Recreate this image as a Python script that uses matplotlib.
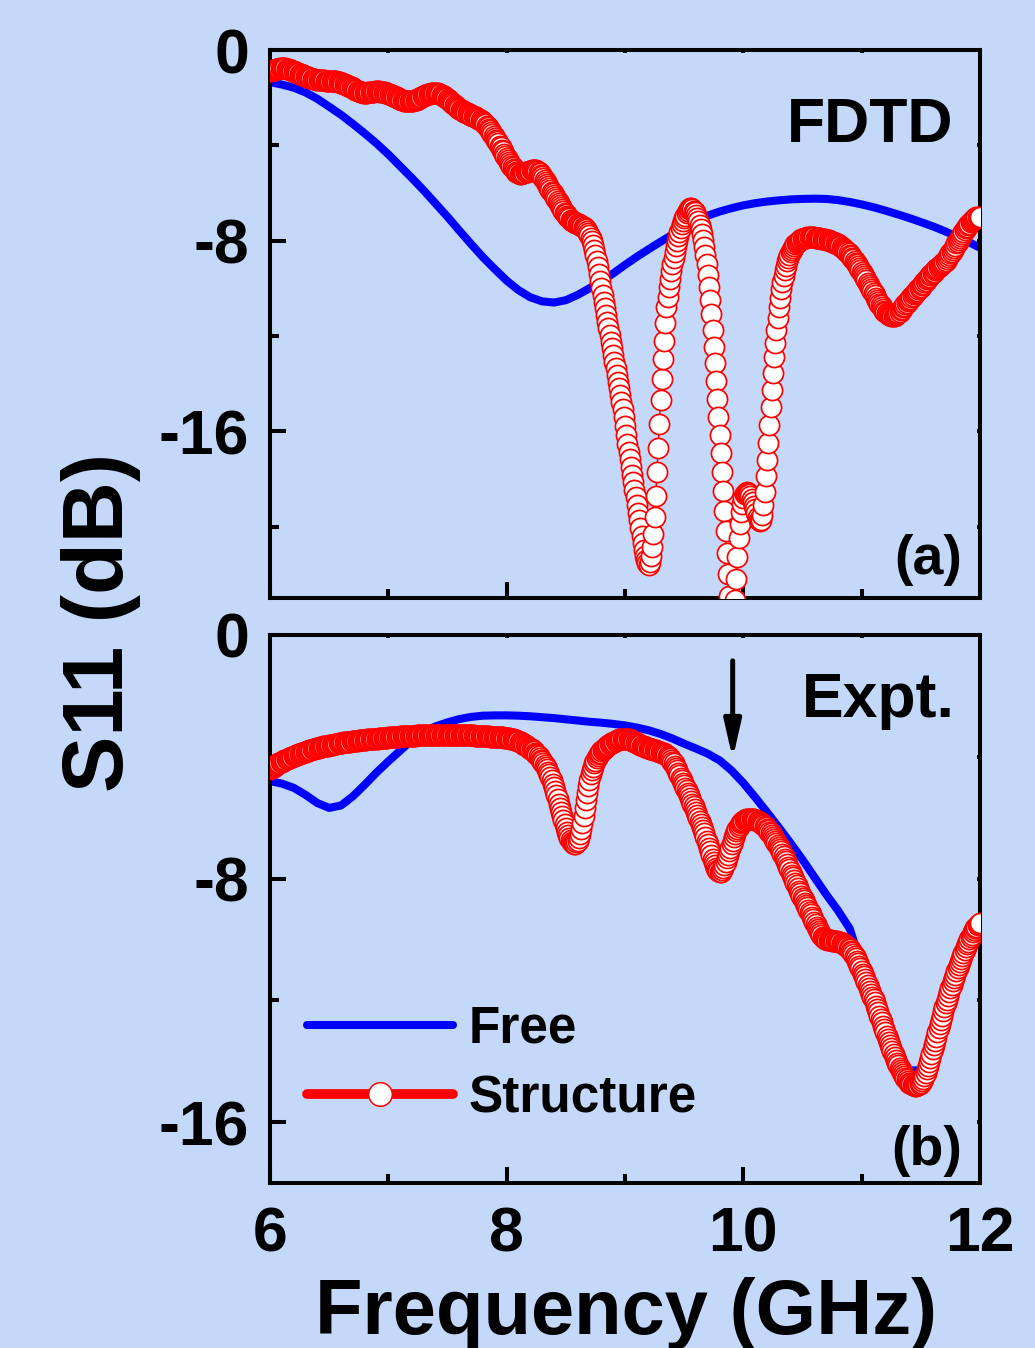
import numpy as np
import matplotlib
matplotlib.use('Agg')
import matplotlib.pyplot as plt
from matplotlib.lines import Line2D

plt.rcParams['font.family'] = ['Liberation Sans', 'DejaVu Sans']
plt.rcParams['font.weight'] = 'bold'
plt.rcParams['axes.unicode_minus'] = False

# frequency grids (GHz)
freq_fine = np.linspace(6, 12, 601)
freq_coarse = np.linspace(6, 12, 61)

# (a) FDTD, free space, 0.1 GHz step
fdtd_free = [
    -1.35, -1.45, -1.58, -1.78, -2.05, -2.38, -2.72, -3.10, -3.50, -3.92,
    -4.38, -4.88, -5.38, -5.90, -6.45, -7.00, -7.58, -8.15, -8.70, -9.20,
    -9.68, -10.08, -10.38, -10.55, -10.60, -10.50, -10.28, -10.00, -9.70, -9.38,
    -9.02, -8.68, -8.36, -8.05, -7.75, -7.45, -7.18, -6.95, -6.78, -6.64,
    -6.52, -6.43, -6.36, -6.31, -6.27, -6.25, -6.24, -6.25, -6.30, -6.38,
    -6.48, -6.60, -6.74, -6.89, -7.05, -7.22, -7.40, -7.60, -7.82, -8.05,
    -8.30]

# (a) FDTD, structure, 0.01 GHz step
fdtd_struct = [
    -0.90, -0.88, -0.86, -0.84, -0.82, -0.80, -0.79, -0.78, -0.77, -0.76,
    -0.75, -0.75, -0.76, -0.77, -0.78, -0.79, -0.81, -0.83, -0.85, -0.87,
    -0.88, -0.91, -0.93, -0.96, -0.98, -1.00, -1.02, -1.04, -1.06, -1.08,
    -1.10, -1.12, -1.14, -1.16, -1.17, -1.19, -1.20, -1.21, -1.23, -1.24,
    -1.25, -1.26, -1.27, -1.27, -1.28, -1.28, -1.28, -1.29, -1.29, -1.29,
    -1.30, -1.30, -1.30, -1.30, -1.31, -1.31, -1.32, -1.33, -1.34, -1.36,
    -1.38, -1.39, -1.41, -1.43, -1.45, -1.47, -1.50, -1.52, -1.55, -1.57,
    -1.60, -1.63, -1.66, -1.68, -1.71, -1.73, -1.75, -1.76, -1.78, -1.79,
    -1.79, -1.79, -1.79, -1.78, -1.78, -1.77, -1.76, -1.75, -1.75, -1.74,
    -1.74, -1.74, -1.74, -1.75, -1.75, -1.76, -1.77, -1.78, -1.79, -1.81,
    -1.83, -1.85, -1.87, -1.89, -1.92, -1.94, -1.96, -1.99, -2.01, -2.04,
    -2.06, -2.08, -2.10, -2.12, -2.14, -2.15, -2.16, -2.16, -2.16, -2.15,
    -2.14, -2.13, -2.11, -2.10, -2.08, -2.05, -2.03, -2.00, -1.98, -1.95,
    -1.93, -1.90, -1.88, -1.86, -1.84, -1.83, -1.81, -1.80, -1.80, -1.79,
    -1.79, -1.80, -1.81, -1.83, -1.85, -1.88, -1.91, -1.94, -1.97, -2.01,
    -2.05, -2.09, -2.13, -2.17, -2.22, -2.26, -2.31, -2.35, -2.39, -2.43,
    -2.47, -2.50, -2.53, -2.56, -2.59, -2.62, -2.64, -2.66, -2.69, -2.71,
    -2.74, -2.76, -2.78, -2.81, -2.83, -2.86, -2.89, -2.91, -2.95, -2.99,
    -3.03, -3.07, -3.12, -3.17, -3.23, -3.30, -3.37, -3.44, -3.52, -3.60,
    -3.68, -3.76, -3.84, -3.92, -4.01, -4.09, -4.18, -4.26, -4.35, -4.43,
    -4.52, -4.61, -4.70, -4.78, -4.86, -4.93, -4.99, -5.05, -5.10, -5.14,
    -5.17, -5.19, -5.19, -5.18, -5.17, -5.16, -5.14, -5.12, -5.10, -5.08,
    -5.06, -5.05, -5.04, -5.03, -5.03, -5.05, -5.08, -5.12, -5.17, -5.23,
    -5.30, -5.38, -5.46, -5.54, -5.62, -5.70, -5.78, -5.86, -5.94, -6.02,
    -6.10, -6.18, -6.27, -6.35, -6.44, -6.52, -6.60, -6.68, -6.76, -6.83,
    -6.90, -6.96, -7.02, -7.07, -7.12, -7.16, -7.19, -7.22, -7.25, -7.27,
    -7.30, -7.32, -7.35, -7.38, -7.40, -7.43, -7.47, -7.52, -7.58, -7.66,
    -7.75, -7.87, -8.02, -8.20, -8.40, -8.60, -8.85, -9.12, -9.40, -9.70,
    -10.00, -10.28, -10.56, -10.84, -11.12, -11.40, -11.68, -11.96, -12.24, -12.52,
    -12.80, -13.08, -13.36, -13.64, -13.92, -14.20, -14.48, -14.76, -15.05, -15.40,
    -15.80, -16.16, -16.52, -16.86, -17.18, -17.50, -17.82, -18.14, -18.46, -18.78,
    -19.10, -19.42, -19.74, -20.06, -20.38, -20.70, -20.98, -21.22, -21.42, -21.55,
    -21.60, -21.50, -21.25, -20.85, -20.30, -19.60, -18.70, -17.70, -16.70, -15.70,
    -14.70, -13.80, -12.95, -12.20, -11.45, -10.80, -10.35, -9.95, -9.60, -9.28,
    -9.00, -8.72, -8.46, -8.22, -8.00, -7.80, -7.62, -7.46, -7.32, -7.18,
    -7.06, -6.95, -6.85, -6.76, -6.69, -6.65, -6.65, -6.68, -6.74, -6.82,
    -6.92, -7.04, -7.18, -7.34, -7.52, -7.72, -7.97, -8.27, -8.62, -9.00,
    -9.45, -9.95, -10.50, -11.10, -11.75, -12.45, -13.15, -13.90, -14.65, -15.40,
    -16.15, -16.90, -17.70, -18.50, -19.35, -20.20, -21.10, -22.00, -22.90, -23.70,
    -24.20, -24.30, -23.90, -23.10, -22.20, -21.30, -20.50, -19.90, -19.40, -19.05,
    -18.80, -18.65, -18.58, -18.56, -18.58, -18.63, -18.72, -18.84, -18.98, -19.12,
    -19.28, -19.44, -19.60, -19.72, -19.78, -19.72, -19.50, -19.10, -18.55, -17.90,
    -17.20, -16.50, -15.75, -15.00, -14.25, -13.55, -12.90, -12.30, -11.75, -11.25,
    -10.80, -10.40, -10.05, -9.75, -9.48, -9.25, -9.05, -8.87, -8.72, -8.60,
    -8.49, -8.39, -8.30, -8.22, -8.15, -8.09, -8.04, -8.00, -7.97, -7.94,
    -7.92, -7.90, -7.88, -7.87, -7.86, -7.85, -7.85, -7.85, -7.85, -7.85,
    -7.86, -7.87, -7.88, -7.89, -7.90, -7.91, -7.92, -7.93, -7.94, -7.95,
    -7.96, -7.98, -7.99, -8.00, -8.02, -8.04, -8.06, -8.08, -8.10, -8.13,
    -8.16, -8.19, -8.22, -8.26, -8.30, -8.34, -8.38, -8.43, -8.48, -8.53,
    -8.59, -8.65, -8.71, -8.78, -8.85, -8.92, -9.00, -9.08, -9.15, -9.23,
    -9.31, -9.40, -9.49, -9.58, -9.67, -9.76, -9.85, -9.94, -10.03, -10.12,
    -10.21, -10.30, -10.39, -10.48, -10.56, -10.64, -10.72, -10.80, -10.87, -10.94,
    -11.00, -11.05, -11.09, -11.12, -11.14, -11.16, -11.17, -11.17, -11.16, -11.13,
    -11.09, -11.04, -10.98, -10.92, -10.86, -10.80, -10.73, -10.67, -10.61, -10.55,
    -10.49, -10.43, -10.37, -10.32, -10.26, -10.21, -10.15, -10.10, -10.04, -9.99,
    -9.93, -9.87, -9.81, -9.75, -9.69, -9.63, -9.57, -9.51, -9.46, -9.40,
    -9.35, -9.30, -9.25, -9.20, -9.16, -9.12, -9.08, -9.04, -9.00, -8.95,
    -8.90, -8.84, -8.77, -8.70, -8.62, -8.54, -8.46, -8.38, -8.29, -8.21,
    -8.12, -8.04, -7.96, -7.88, -7.80, -7.72, -7.64, -7.56, -7.49, -7.42,
    -7.35, -7.29, -7.23, -7.18, -7.13, -7.09, -7.06, -7.03, -7.01, -7.00,
    -7.00]

# (b) experiment, free space, 0.1 GHz step
expt_free = [
    -4.80, -4.88, -5.02, -5.25, -5.52, -5.68, -5.60, -5.30, -4.92, -4.52,
    -4.15, -3.80, -3.45, -3.18, -3.00, -2.87, -2.76, -2.69, -2.65, -2.64,
    -2.64, -2.65, -2.67, -2.70, -2.73, -2.77, -2.81, -2.85, -2.88, -2.92,
    -2.97, -3.04, -3.13, -3.25, -3.40, -3.57, -3.73, -3.90, -4.12, -4.45,
    -4.86, -5.33, -5.82, -6.32, -6.84, -7.38, -7.95, -8.52, -9.05, -9.65,
    -10.90, -11.95, -13.00, -13.85, -14.30, -14.30, -13.45, -12.15, -10.95, -10.10,
    -9.50]

# (b) experiment, structure, 0.01 GHz step
expt_struct = [
    -4.40, -4.37, -4.35, -4.32, -4.29, -4.27, -4.25, -4.22, -4.20, -4.18,
    -4.16, -4.14, -4.12, -4.10, -4.08, -4.06, -4.05, -4.03, -4.01, -4.00,
    -3.98, -3.96, -3.95, -3.93, -3.92, -3.90, -3.89, -3.87, -3.86, -3.84,
    -3.83, -3.82, -3.81, -3.79, -3.78, -3.77, -3.76, -3.75, -3.73, -3.72,
    -3.71, -3.70, -3.69, -3.68, -3.67, -3.66, -3.65, -3.65, -3.64, -3.63,
    -3.62, -3.61, -3.60, -3.60, -3.59, -3.58, -3.57, -3.57, -3.56, -3.55,
    -3.54, -3.54, -3.53, -3.53, -3.52, -3.51, -3.51, -3.50, -3.50, -3.49,
    -3.48, -3.48, -3.48, -3.47, -3.47, -3.46, -3.46, -3.45, -3.45, -3.45,
    -3.44, -3.44, -3.43, -3.43, -3.43, -3.42, -3.42, -3.41, -3.41, -3.41,
    -3.40, -3.40, -3.39, -3.39, -3.39, -3.38, -3.38, -3.38, -3.37, -3.37,
    -3.36, -3.36, -3.36, -3.35, -3.35, -3.35, -3.34, -3.34, -3.34, -3.34,
    -3.33, -3.33, -3.33, -3.33, -3.33, -3.32, -3.32, -3.32, -3.32, -3.31,
    -3.31, -3.31, -3.31, -3.31, -3.30, -3.30, -3.30, -3.30, -3.30, -3.30,
    -3.30, -3.30, -3.29, -3.29, -3.29, -3.29, -3.29, -3.29, -3.29, -3.28,
    -3.28, -3.28, -3.28, -3.28, -3.28, -3.28, -3.28, -3.28, -3.28, -3.28,
    -3.28, -3.28, -3.28, -3.28, -3.28, -3.28, -3.28, -3.28, -3.28, -3.28,
    -3.28, -3.28, -3.28, -3.29, -3.29, -3.29, -3.29, -3.29, -3.30, -3.30,
    -3.30, -3.30, -3.30, -3.31, -3.31, -3.31, -3.31, -3.32, -3.32, -3.32,
    -3.32, -3.32, -3.33, -3.33, -3.33, -3.33, -3.34, -3.34, -3.34, -3.34,
    -3.34, -3.35, -3.35, -3.35, -3.35, -3.36, -3.36, -3.36, -3.37, -3.37,
    -3.38, -3.39, -3.39, -3.40, -3.41, -3.42, -3.43, -3.44, -3.45, -3.47,
    -3.49, -3.51, -3.53, -3.55, -3.57, -3.60, -3.62, -3.65, -3.67, -3.70,
    -3.73, -3.76, -3.79, -3.82, -3.86, -3.90, -3.94, -3.99, -4.04, -4.09,
    -4.15, -4.21, -4.27, -4.34, -4.41, -4.49, -4.58, -4.67, -4.77, -4.88,
    -5.00, -5.13, -5.26, -5.40, -5.54, -5.68, -5.82, -5.96, -6.09, -6.22,
    -6.35, -6.46, -6.57, -6.66, -6.74, -6.80, -6.84, -6.86, -6.85, -6.81,
    -6.75, -6.66, -6.54, -6.38, -6.18, -5.95, -5.69, -5.43, -5.18, -4.95,
    -4.75, -4.58, -4.44, -4.32, -4.22, -4.13, -4.05, -3.98, -3.92, -3.87,
    -3.82, -3.78, -3.74, -3.70, -3.67, -3.64, -3.61, -3.59, -3.56, -3.54,
    -3.52, -3.50, -3.48, -3.46, -3.45, -3.43, -3.42, -3.41, -3.40, -3.40,
    -3.40, -3.40, -3.41, -3.42, -3.43, -3.45, -3.47, -3.49, -3.51, -3.53,
    -3.55, -3.57, -3.59, -3.61, -3.63, -3.65, -3.66, -3.68, -3.69, -3.71,
    -3.72, -3.73, -3.74, -3.76, -3.77, -3.78, -3.79, -3.80, -3.82, -3.83,
    -3.84, -3.86, -3.87, -3.89, -3.91, -3.94, -3.97, -4.01, -4.05, -4.10,
    -4.16, -4.22, -4.29, -4.37, -4.45, -4.53, -4.61, -4.69, -4.77, -4.85,
    -4.93, -5.01, -5.10, -5.18, -5.27, -5.36, -5.45, -5.54, -5.63, -5.72,
    -5.81, -5.90, -6.00, -6.10, -6.20, -6.30, -6.41, -6.52, -6.63, -6.75,
    -6.87, -6.99, -7.11, -7.23, -7.35, -7.46, -7.56, -7.64, -7.71, -7.76,
    -7.78, -7.77, -7.73, -7.66, -7.57, -7.46, -7.34, -7.22, -7.10, -6.98,
    -6.86, -6.75, -6.64, -6.54, -6.45, -6.37, -6.30, -6.24, -6.19, -6.14,
    -6.10, -6.08, -6.06, -6.05, -6.04, -6.03, -6.03, -6.03, -6.04, -6.05,
    -6.07, -6.09, -6.11, -6.13, -6.15, -6.18, -6.21, -6.24, -6.28, -6.32,
    -6.36, -6.41, -6.46, -6.51, -6.57, -6.63, -6.69, -6.75, -6.82, -6.89,
    -6.96, -7.03, -7.11, -7.19, -7.27, -7.35, -7.43, -7.52, -7.61, -7.69,
    -7.78, -7.87, -7.96, -8.04, -8.13, -8.22, -8.31, -8.40, -8.48, -8.56,
    -8.64, -8.72, -8.80, -8.88, -8.95, -9.03, -9.11, -9.18, -9.26, -9.34,
    -9.42, -9.50, -9.58, -9.66, -9.73, -9.80, -9.86, -9.91, -9.95, -9.98,
    -10.00, -10.01, -10.02, -10.03, -10.03, -10.04, -10.04, -10.05, -10.05, -10.06,
    -10.07, -10.08, -10.09, -10.11, -10.13, -10.15, -10.18, -10.21, -10.24, -10.28,
    -10.32, -10.37, -10.42, -10.48, -10.55, -10.62, -10.70, -10.78, -10.86, -10.94,
    -11.03, -11.12, -11.21, -11.30, -11.39, -11.48, -11.58, -11.68, -11.78, -11.88,
    -11.97, -12.07, -12.18, -12.28, -12.39, -12.50, -12.61, -12.72, -12.83, -12.94,
    -13.05, -13.16, -13.27, -13.37, -13.48, -13.58, -13.68, -13.77, -13.87, -13.96,
    -14.05, -14.13, -14.21, -14.29, -14.36, -14.43, -14.49, -14.55, -14.60, -14.65,
    -14.70, -14.73, -14.76, -14.78, -14.79, -14.80, -14.80, -14.79, -14.77, -14.74,
    -14.70, -14.64, -14.57, -14.48, -14.38, -14.27, -14.15, -14.02, -13.89, -13.75,
    -13.61, -13.47, -13.33, -13.19, -13.05, -12.91, -12.77, -12.63, -12.50, -12.36,
    -12.23, -12.10, -11.98, -11.85, -11.73, -11.61, -11.50, -11.38, -11.27, -11.16,
    -11.05, -10.94, -10.83, -10.73, -10.63, -10.53, -10.43, -10.34, -10.25, -10.16,
    -10.07, -9.99, -9.91, -9.84, -9.77, -9.70, -9.64, -9.58, -9.53, -9.49,
    -9.45]

legend_labels = ['Free', 'Structure']
panel_names = ['FDTD', 'Expt.']
panel_tags = ['(a)', '(b)']
x_major = [6, 8, 10, 12]
x_minor = [7, 9, 11]
y_major = [0, -8, -16]
y_minor = [[-4, -12, -20], [-4, -12]]
y_low = [-23, -18]
arrow_f = 9.91
arrow_top, arrow_tip = -0.85, -4.07

bg = '#C4D9FA'
W, H = 1035, 1348

fig = plt.figure(figsize=(W / 100, H / 100), dpi=100, facecolor=bg)


def add_px_axes(left, top, right, bottom):
    return fig.add_axes([left / W, 1 - bottom / H, (right - left) / W, (bottom - top) / H])


ax1 = add_px_axes(270, 50, 980, 598)
ax2 = add_px_axes(270, 635, 980, 1183)

series = [(ax1, fdtd_free, fdtd_struct), (ax2, expt_free, expt_struct)]
for i, (ax, free, struct) in enumerate(series):
    ax.set_facecolor(bg)
    ax.plot(freq_coarse, free, color='blue', lw=5.8, zorder=2)
    ax.plot(freq_fine, struct, color='red', lw=1.0, marker='o', ms=14.5,
            mfc='white', mec='red', mew=1.25, zorder=3)
    ax.set_xlim(6, 12)
    ax.set_ylim(y_low[i], 0)
    ax.set_xticks(x_major)
    ax.set_xticks(x_minor, minor=True)
    ax.set_yticks(y_major)
    ax.set_yticks(y_minor[i], minor=True)
    for s in ax.spines.values():
        s.set_linewidth(2.9)
    ax.tick_params(which='both', direction='in', width=2.9, labelsize=45,
                   top=True, right=True)
    ax.tick_params(axis='y', pad=15)
    ax.tick_params(axis='x', pad=16)
    ax.tick_params(which='major', length=11.5)
    ax.tick_params(which='minor', length=6.5)
    # top / right ticks are only tiny nubs
    ticks = (ax.xaxis.get_major_ticks() + ax.xaxis.get_minor_ticks() +
             ax.yaxis.get_major_ticks() + ax.yaxis.get_minor_ticks())
    for t in ticks:
        t.tick2line.set_markersize(2.5)

ax1.tick_params(labelbottom=False)

ax1.text(0.962, 0.832, panel_names[0], transform=ax1.transAxes, ha='right',
         va='baseline', fontsize=45)
ax2.text(0.965, 0.850, panel_names[1], transform=ax2.transAxes, ha='right',
         va='baseline', fontsize=45)
ax1.text(0.975, 0.044, panel_tags[0], transform=ax1.transAxes, ha='right',
         va='baseline', fontsize=40)
ax2.text(0.975, 0.033, panel_tags[1], transform=ax2.transAxes, ha='right',
         va='baseline', fontsize=40)

ax2.annotate('', xy=(arrow_f, arrow_tip), xytext=(arrow_f, arrow_top),
             arrowprops=dict(arrowstyle='-|>,head_length=0.75,head_width=0.17',
                             mutation_scale=30, lw=3.6, color='black',
                             shrinkA=0, shrinkB=0))

h_free = Line2D([], [], color='blue', lw=5.8, solid_capstyle='round')
h_struct = Line2D([], [], color='red', lw=7, solid_capstyle='round', marker='o',
                  ms=17, mfc='white', mec='red', mew=1.1)
ax2.legend([h_free, h_struct], legend_labels, loc='center left',
           bbox_to_anchor=((307 - 270) / 710, 1 - (1064 - 635) / 548),
           frameon=False, fontsize=37, handlelength=2.85, handletextpad=0.3,
           labelspacing=0.4, borderpad=0, borderaxespad=0, numpoints=1)

fig.text(626 / W, 1 - 1334 / H, 'Frequency (GHz)', ha='center', va='baseline',
         fontsize=56)
fig.text(101 / W, 1 - 622 / H, 'S11 (dB)', rotation=90, ha='center',
         va='center', fontsize=61)

fig.savefig('out.png', dpi=100, facecolor=bg)
